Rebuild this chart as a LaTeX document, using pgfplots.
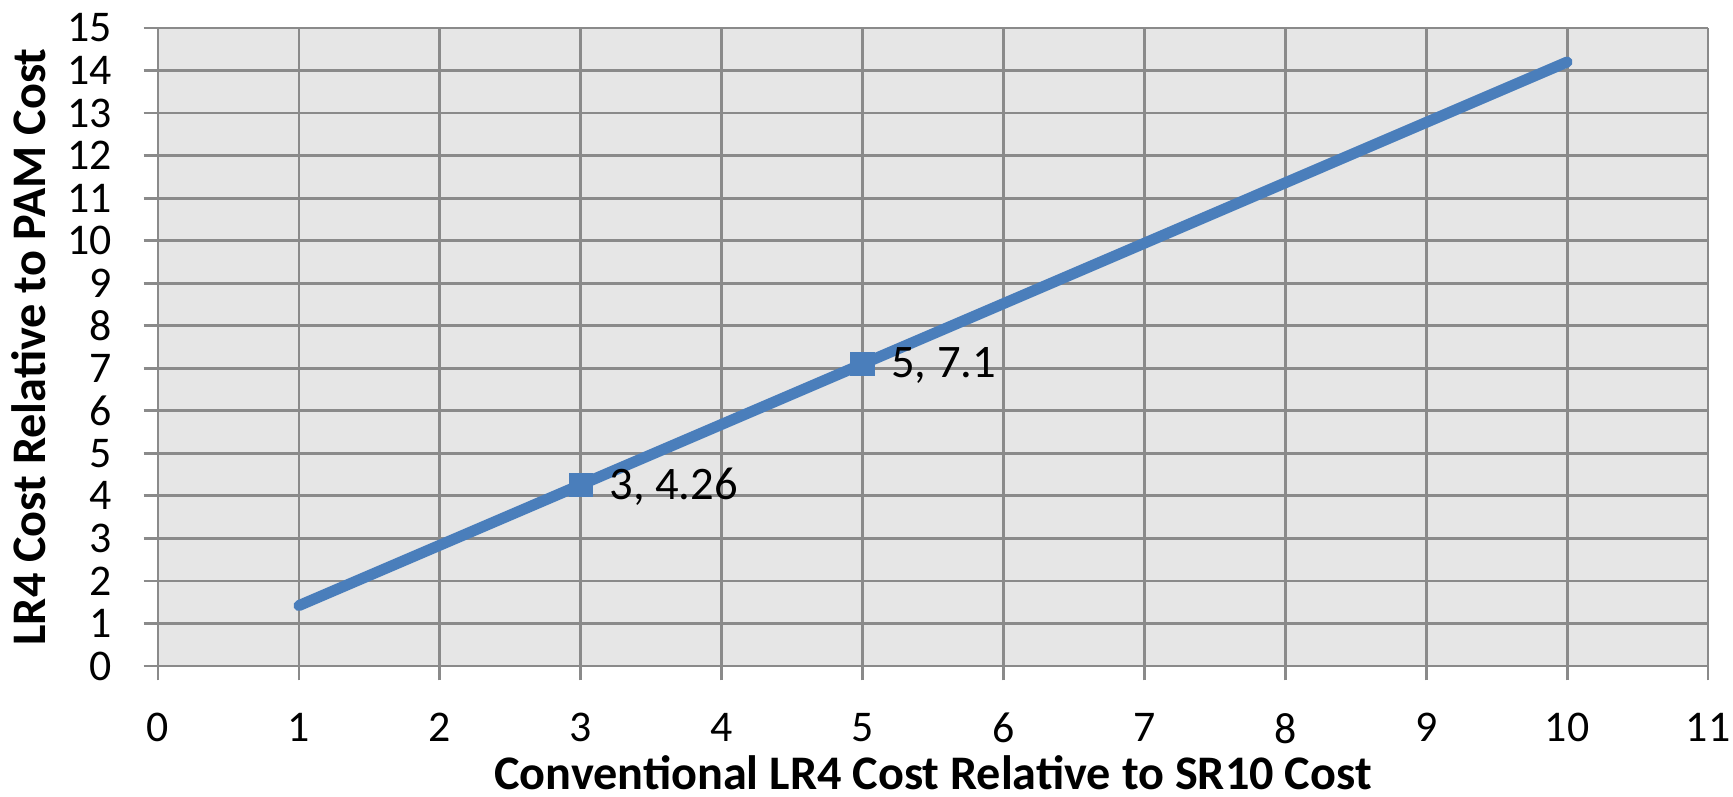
\documentclass[border=0pt]{standalone}
\usepackage{fontspec}
\setmainfont{Carlito}
\usepackage{pgfplots}
\pgfplotsset{compat=1.18}
\definecolor{seriesblue}{HTML}{4A7EBB}
\definecolor{plotbg}{HTML}{E6E6E6}
\definecolor{gridgray}{HTML}{8A8A8A}
\begin{document}
\begin{tikzpicture}
\begin{axis}[
  scale only axis,
  width=387.5bp, height=159.5bp,
  xmin=0, xmax=11, ymin=0, ymax=15,
  xtick={0,...,11}, ytick={0,...,15},
  /pgf/number format/assume math mode=true,
  axis background/.style={fill=plotbg},
  axis line style={gridgray, line width=0.7bp},
  grid=major,
  major grid style={gridgray, line width=0.7bp},
  tick style={gridgray, line width=0.7bp},
  tick align=outside,
  major tick length=3.6bp,
  axis x line*=bottom, axis y line*=left,
  ticklabel style={font=\fontsize{11}{13}\selectfont, inner sep=0pt},
  xticklabel style={anchor=north, yshift=-8bp},
  yticklabel style={anchor=east, xshift=-7.8bp},
  every axis x label/.style={at={(axis description cs:0.5,-0.193)}, anchor=base,
    font=\fontsize{12.1}{14}\selectfont\bfseries, inner sep=0pt},
  every axis y label/.style={at={(axis description cs:-0.0832,0.5)}, rotate=90, anchor=center,
    font=\fontsize{12.1}{14}\selectfont\bfseries, inner sep=0pt},
  xlabel={Conventional LR4 Cost Relative to SR10 Cost},
  ylabel={LR4 Cost Relative to PAM Cost},
]
% cost ratio line
\addplot[seriesblue, line width=2.75bp, line cap=round, no markers]
  coordinates {(1,1.42) (3,4.26) (5,7.1) (10,14.2)};
% labelled points
\addplot[only marks, mark=square*, mark size=2.9bp, mark options={fill=seriesblue, draw=seriesblue, line width=0pt},
  point meta=explicit symbolic,
  nodes near coords,
  every node near coord/.style={anchor=west, xshift=7.2bp, yshift=-0.4bp, inner sep=0pt, font=\fontsize{11.7}{13}\selectfont, text=black}]
  coordinates {(3,4.26) [3{,} 4.26] (5,7.1) [5{,} 7.1]};
\coordinate (sw) at (axis description cs:0,0);
\end{axis}
\path ([shift={(-39.5bp,-32.75bp)}]sw) rectangle ([shift={(393.75bp,166.5bp)}]sw);
\end{tikzpicture}
\end{document}
